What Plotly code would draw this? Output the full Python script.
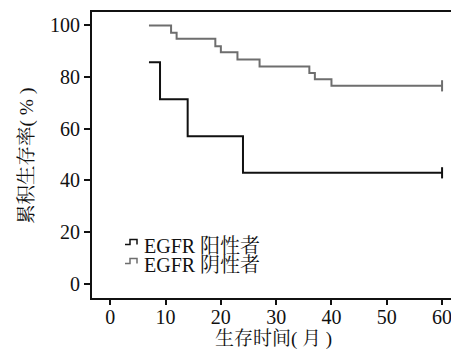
import plotly.graph_objects as go

# Kaplan-Meier step data (months, cumulative survival %)
pos_time = [7, 9, 14, 24, 60]
pos_surv = [85.7, 71.4, 57.1, 42.9, 42.9]
neg_time = [7, 11, 12, 19, 20, 23, 27, 36, 37, 40, 60]
neg_surv = [100, 97.2, 94.8, 91.9, 89.6, 86.8, 84.1, 81.6, 79.1, 76.6, 76.6]

series_names = ["EGFR 阳性者", "EGFR 阴性者"]
series_colors = ["#111111", "#6e6e6e"]

x_ticks = [0, 10, 20, 30, 40, 50, 60]
y_ticks = [0, 20, 40, 60, 80, 100]
x_title = "生存时间( 月 )"
y_title = "累积生存率( % )"

FONT = "Liberation Serif, 'Noto Serif CJK SC', 'Noto Sans CJK SC', serif"

fig = go.Figure()
for t, s, name, col in [(pos_time, pos_surv, series_names[0], series_colors[0]),
                        (neg_time, neg_surv, series_names[1], series_colors[1])]:
    fig.add_trace(go.Scatter(x=t, y=s, mode="lines", line=dict(shape="hv", color=col, width=2),
                             name=name, showlegend=False))
    fig.add_trace(go.Scatter(x=[t[-1]], y=[s[-1]], mode="markers",
                             marker=dict(symbol="line-ns", size=8, line=dict(color=col, width=2)),
                             showlegend=False, hoverinfo="skip"))

# page has an 8px body margin; figure sized so it fits the 459x353 window
OFF = 8
W, H = 459 - OFF, 353 - OFF
L, R, T, B = 84, 2, 4, 55
pw, ph = W - L - R, H - T - B

def px(x):  # page pixel -> paper
    return (x - OFF - L) / pw

def py(y):
    return (H - B - (y - OFF)) / ph

shapes = []
annotations = []
for i, (name, col) in enumerate(zip(series_names, series_colors)):
    top = 239.5 + i * 19
    bot = top + 5
    x0, x1, x2 = 125, 130, 137
    path = (f"M {px(x0)},{py(bot)} L {px(x1)},{py(bot)} L {px(x1)},{py(top)} "
            f"L {px(x2)},{py(top)} L {px(x2)},{py(bot)}")
    shapes.append(dict(type="path", path=path, xref="paper", yref="paper",
                       line=dict(color=col, width=1.5)))
    annotations.append(dict(text=name, x=px(142), y=py(245.5 + i * 19), xref="paper", yref="paper",
                            xanchor="left", yanchor="middle", showarrow=False,
                            font=dict(family=FONT, size=20, color="#111")))

annotations.append(dict(text=x_title, x=px(273), y=py(338.5), xref="paper", yref="paper",
                        xanchor="center", yanchor="middle", showarrow=False,
                        font=dict(family=FONT, size=19, color="#111")))
annotations.append(dict(text=y_title, x=px(27), y=py(156), xref="paper", yref="paper",
                        xanchor="center", yanchor="middle", showarrow=False, textangle=-90,
                        font=dict(family=FONT, size=19.5, color="#111")))

fig.update_layout(
    width=W, height=H,
    margin=dict(l=L, r=R, t=T, b=B, autoexpand=False),
    paper_bgcolor="white", plot_bgcolor="white",
    font=dict(family=FONT, size=20, color="#111"),
    shapes=shapes, annotations=annotations,
    xaxis=dict(range=[-3.3, 62.7], tickvals=x_ticks, ticks="outside", ticklen=5, tickwidth=2,
               tickcolor="#111", showline=True, linewidth=2, linecolor="#111", mirror=True,
               showgrid=False, zeroline=False, automargin=False, ticklabelstandoff=-5),
    yaxis=dict(range=[-5.6, 105.2], tickvals=y_ticks, ticks="outside", ticklen=6, tickwidth=2,
               tickcolor="#111", showline=True, linewidth=2, linecolor="#111", mirror=True,
               showgrid=False, zeroline=False, automargin=False),
)

fig.write_html("out.html")
